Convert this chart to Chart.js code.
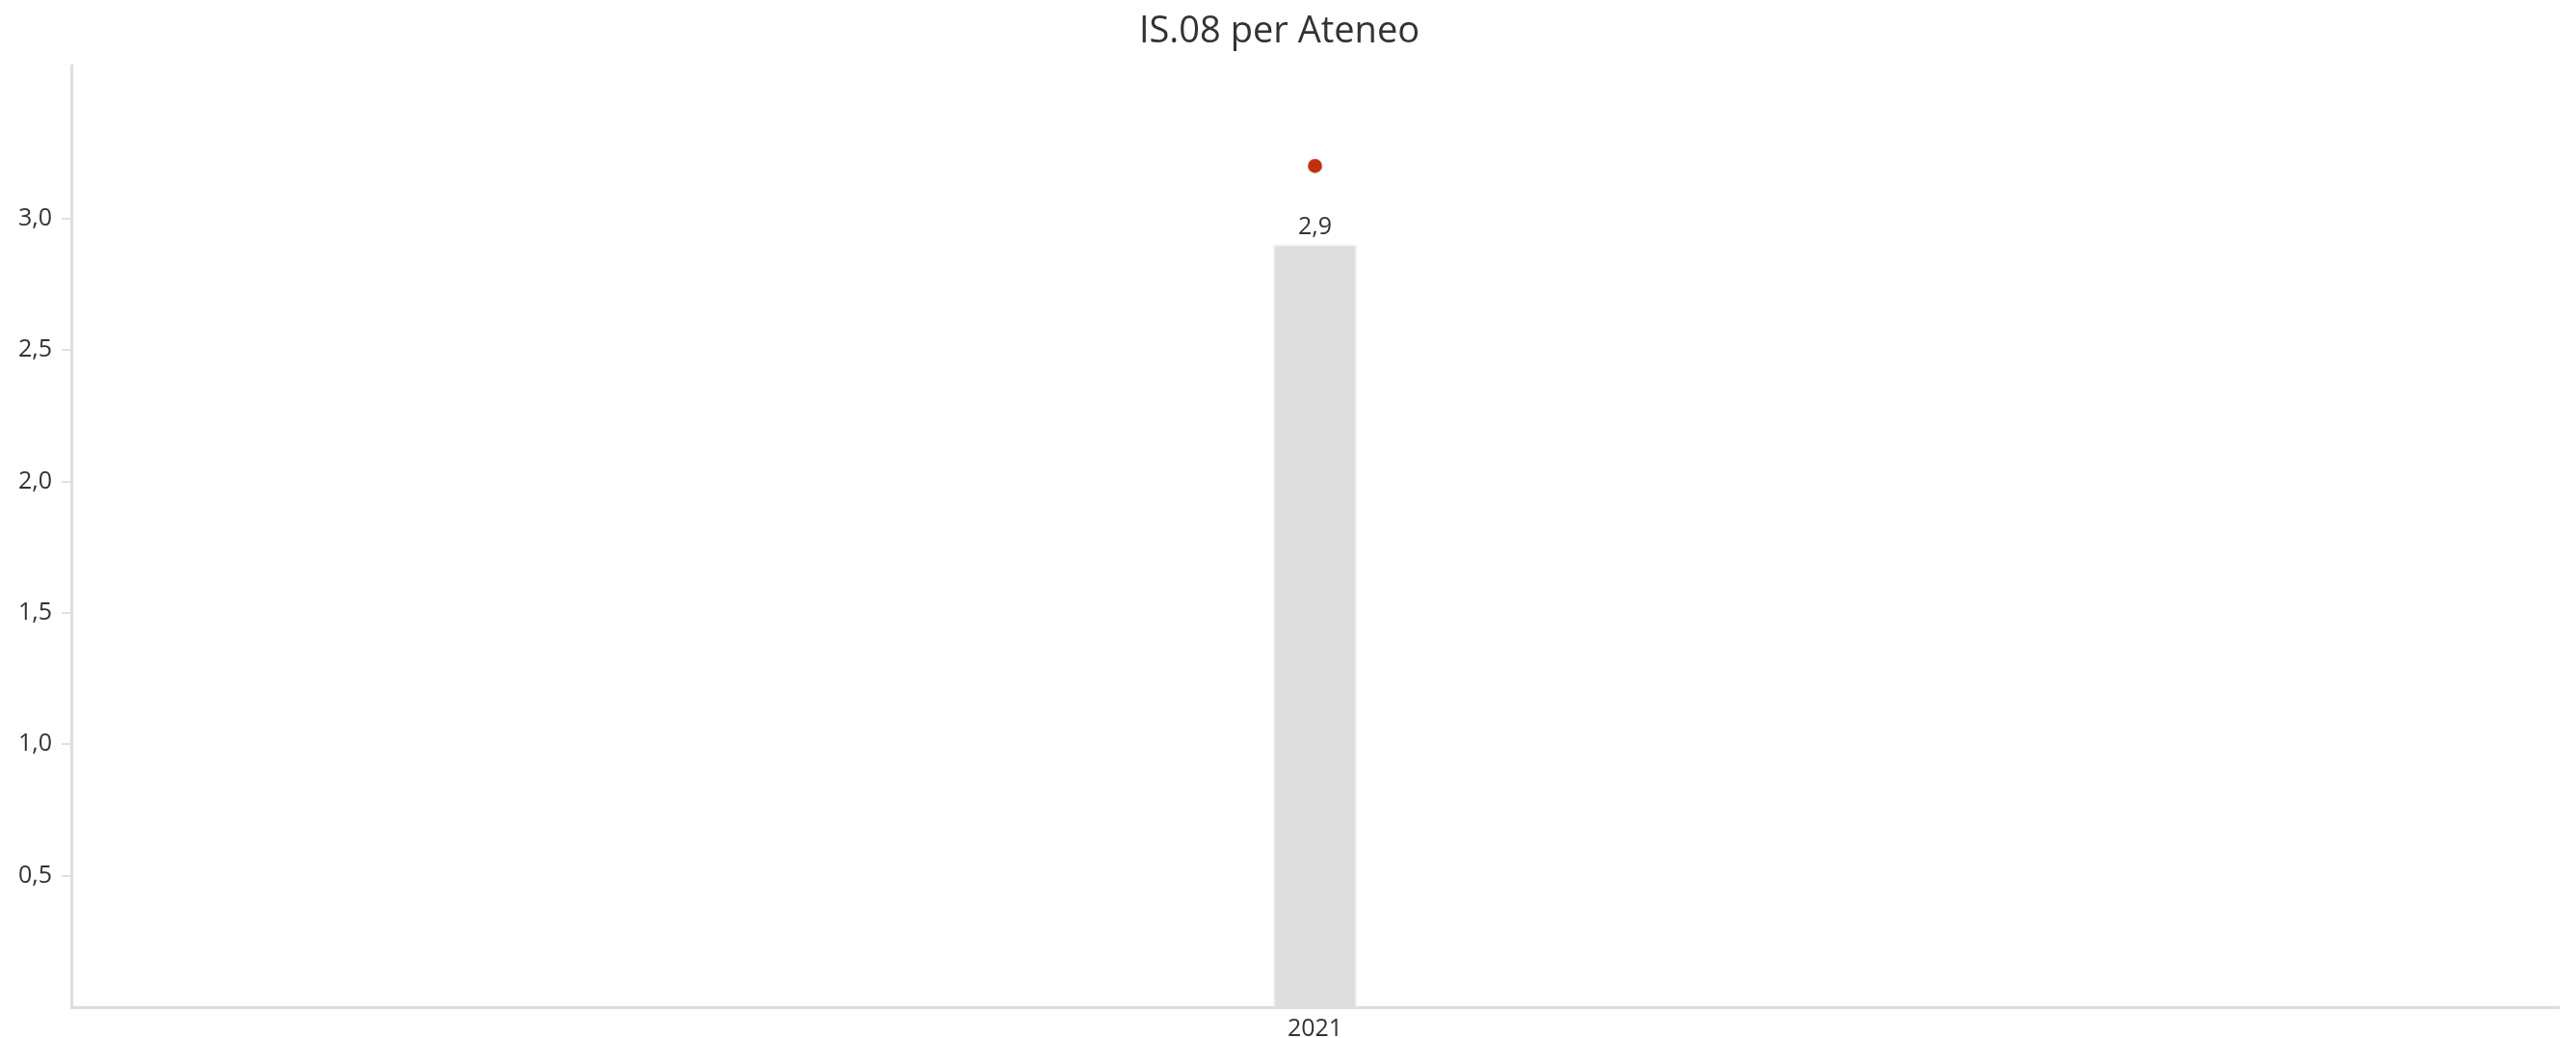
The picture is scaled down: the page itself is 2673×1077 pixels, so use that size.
<!DOCTYPE html>
<html>
<head>
<meta charset="utf-8">
<style>
  html, body { margin: 0; padding: 0; background: #fff; }
  #wrap { width: 2673px; height: 1077px; }
</style>
<script src="https://cdn.jsdelivr.net/npm/chart.js"></script>
</head>
<body>
<div id="wrap"><canvas id="chart" width="2673" height="1077"></canvas></div>
<script>
const years = ['2021'];
const ateneoValues = [2.9];
const referenceValues = [3.2];
const yTickValues = [0.5, 1.0, 1.5, 2.0, 2.5, 3.0];

const fmt = v => v.toLocaleString('it-IT', { minimumFractionDigits: 1, maximumFractionDigits: 1 });

// value labels above the bars
const barLabels = {
  id: 'barLabels',
  afterDatasetsDraw(chart) {
    const ctx = chart.ctx;
    const meta = chart.getDatasetMeta(0);
    ctx.save();
    ctx.font = '25px "Open Sans"';
    ctx.fillStyle = '#333';
    ctx.textAlign = 'center';
    ctx.textBaseline = 'bottom';
    meta.data.forEach((bar, i) => {
      ctx.fillText(fmt(ateneoValues[i]), bar.x, bar.y - 6);
    });
    ctx.restore();
  }
};

new Chart(document.getElementById('chart'), {
  data: {
    labels: years,
    datasets: [
      {
        type: 'bar',
        data: ateneoValues,
        backgroundColor: '#dddddd',
        borderColor: '#eeeeee',
        borderWidth: 2,
        barThickness: 86,
        order: 2
      },
      {
        type: 'line',
        data: referenceValues,
        showLine: false,
        pointRadius: 8,
        pointHoverRadius: 8,
        pointBackgroundColor: '#c0300a',
        pointBorderColor: '#eeeeee',
        pointBorderWidth: 1.5,
        order: 1
      }
    ]
  },
  options: {
    responsive: false,
    animation: false,
    layout: { padding: { left: 0, right: 18, top: 0, bottom: 0 } },
    plugins: {
      legend: { display: false },
      tooltip: { enabled: false },
      title: {
        display: true,
        text: 'IS.08 per Ateneo',
        color: '#333',
        font: { family: 'Open Sans', size: 38, weight: 'normal' },
        padding: { top: 10, bottom: 13 }
      }
    },
    scales: {
      x: {
        grid: { display: false, drawTicks: false },
        border: { color: '#dddddd', width: 3 },
        ticks: { color: '#333', font: { family: 'Open Sans', size: 25 }, padding: 8 },
        afterFit(scale) { scale.height = 32; }
      },
      y: {
        min: 0,
        max: 3.58,
        grid: { drawOnChartArea: false, drawTicks: true, tickLength: 10, color: '#e0e0e0', lineWidth: 2 },
        border: { color: '#dddddd', width: 3 },
        ticks: {
          color: '#333',
          font: { family: 'Open Sans', size: 25 },
          padding: 10,
          callback: v => fmt(v)
        },
        afterBuildTicks(scale) { scale.ticks = yTickValues.map(v => ({ value: v })); },
        afterFit(scale) { scale.width = 74; }
      }
    }
  },
  plugins: [barLabels]
});
</script>
</body>
</html>
